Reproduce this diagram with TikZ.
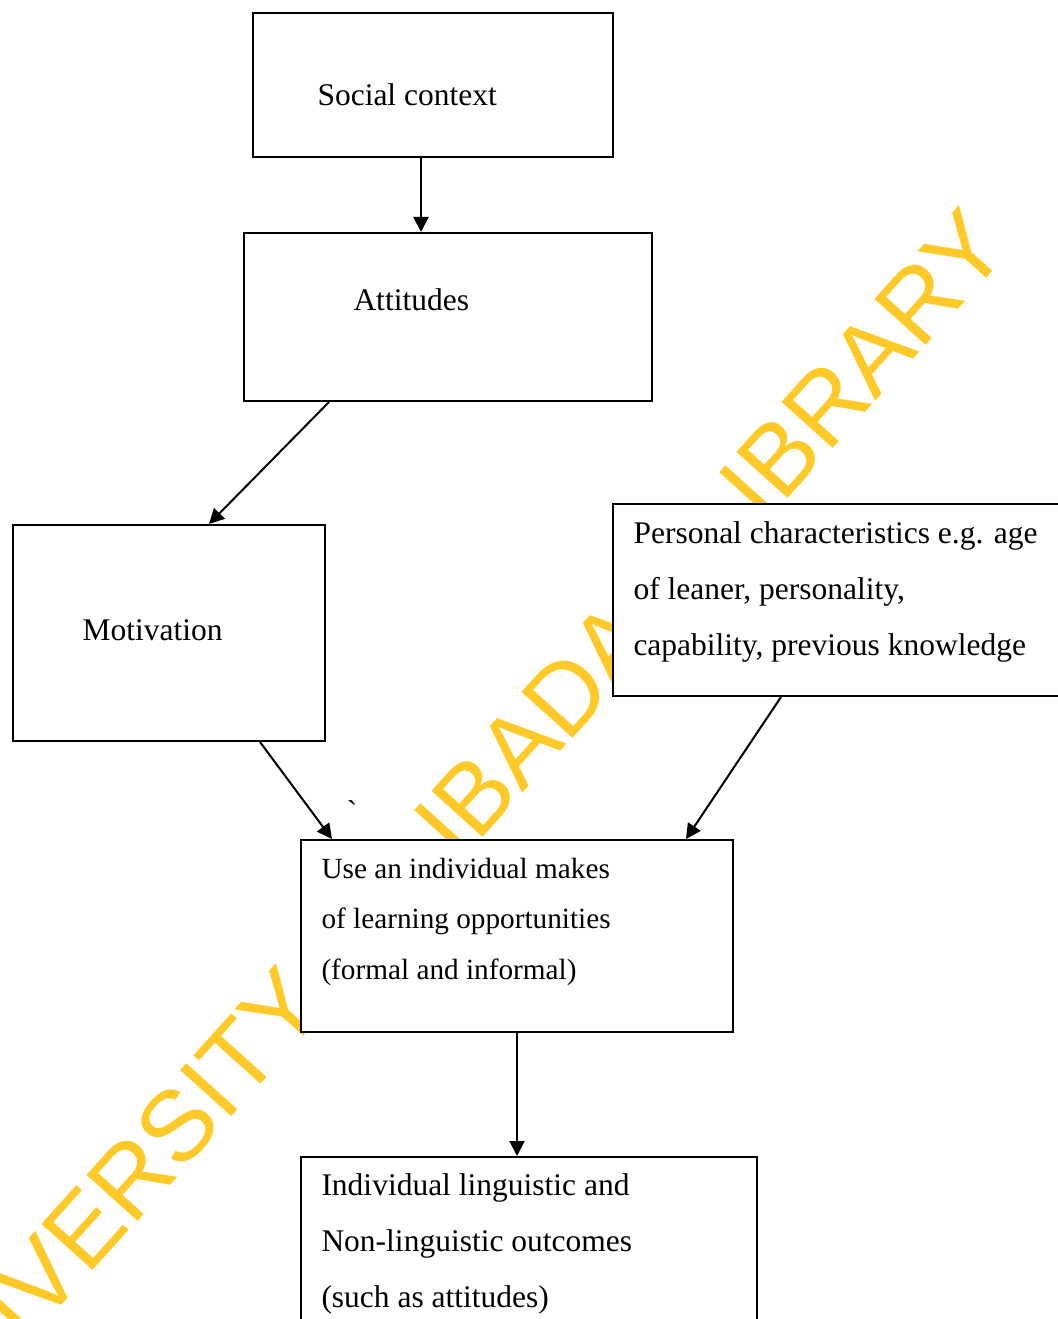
\documentclass[tikz,border=0pt]{standalone}
\usepackage{fontspec}
\setmainfont{Liberation Serif}
\newfontfamily\wmfont{Liberation Sans}
\usetikzlibrary{arrows.meta}
\definecolor{wmyellow}{RGB}{255,202,40}

\begin{document}
\begin{tikzpicture}[x=0.4pt,y=-0.4pt,>={Triangle[length=6pt,width=6pt]},
	box/.style={draw,fill=white,line width=0.8pt,inner sep=0pt},
	txt/.style={anchor=base west,align=left,inner sep=0pt,font=\fontsize{12.6}{22.4}\selectfont},
	link/.style={->,line width=0.8pt}]
	\useasboundingbox (0,0) rectangle (1058,1319);
	\clip (0,0) rectangle (1058,1319);
	% watermark behind the boxes
	\node[font=\wmfont\fontsize{40}{40}\selectfont, text=wmyellow, rotate=48, anchor=base, inner sep=0pt] (wm) at (470,852) {UNIVERSITY OF IBADAN LIBRARY};
	% boxes
	\node[box, minimum width=144pt, minimum height=57.6pt] (soc) at (433,85) {};
	\node[box, minimum width=163.2pt, minimum height=67.2pt] (att) at (448,317) {};
	\node[box, minimum width=124.8pt, minimum height=86.4pt] (mot) at (169,633) {};
	\node[box, minimum width=183.6pt, minimum height=76.8pt] (pers) at (842.5,600) {};
	\node[box, minimum width=172.8pt, minimum height=76.8pt] (use) at (517,936) {};
	\node[box, minimum width=182.4pt, minimum height=80pt] (ind) at (529,1257) {};
	% texts (base = last line)
	\node[txt] (socT) at (317,106) {Social context};
	\node[txt] (attT) at (353,310) {Attitudes};
	\node[txt] (motT) at (82,640) {Motivation};
	\node[txt] (persT) at (633,655) {Personal characteristics e.g. age\\of leaner, personality,\\capability, previous knowledge};
	\node[txt, font=\fontsize{11.7}{20.2}\selectfont] (useT) at (321,979) {Use an individual makes\\of learning opportunities\\(formal and informal)};
	\node[txt] (indT) at (321,1307) {Individual linguistic and\\Non-linguistic outcomes\\(such as attitudes)};
	\node[inner sep=0pt, anchor=base, font=\fontsize{12.6}{12}\selectfont] (tick) at (352,822) {\textasciigrave};
	% arrows
	\draw[link] (soc.south -| 421,0) -- (att.north -| 421,0);
	\draw[link] (att.south -| 329,0) -- (mot.north -| 209,0);
	\draw[link] (mot.south -| 260,0) -- (use.north -| 332,0);
	\draw[link] (pers.south -| 781,0) -- (use.north -| 686,0);
	\draw[link] (use.south) -- (ind.north -| use.south);
\end{tikzpicture}
\end{document}
